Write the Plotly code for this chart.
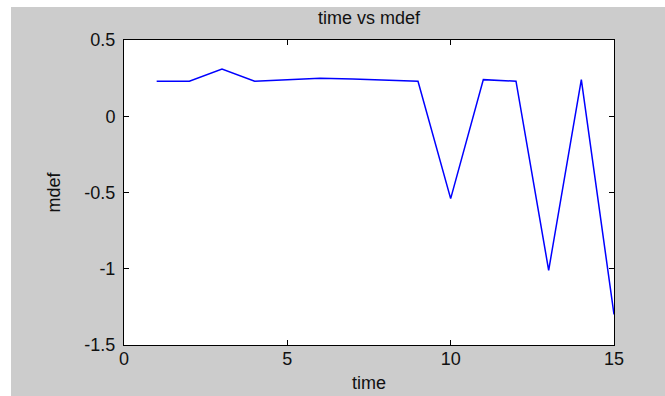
import plotly.graph_objects as go

time = list(range(1, 16))
mdef = [0.23, 0.23, 0.31, 0.23, 0.24, 0.25, 0.245, 0.235, 0.23,
        -0.54, 0.24, 0.23, -1.01, 0.24, -1.30]

x_ticks = [0, 5, 10, 15]
y_ticks = [0.5, 0, -0.5, -1, -1.5]
y_ticklabels = ["0.5", "0", "-0.5", "-1", "-1.5"]

W, H = 665, 396
L, R, T, B = 124, 51, 40, 51
FONT = "Liberation Sans, Arial, sans-serif"
FS = 18
PW, PH = W - L - R, H - T - B

fig = go.Figure()
fig.add_trace(go.Scatter(x=time, y=mdef, mode="lines",
                         line=dict(color="#0000ff", width=1.5),
                         showlegend=False, hoverinfo="skip"))

axis_common = dict(showgrid=False, zeroline=False, showline=True, linecolor="black",
                   linewidth=1, mirror="ticks", ticks="inside", ticklen=5,
                   tickcolor="black", tickwidth=1,
                   tickfont=dict(family=FONT, size=FS, color="#111111"))

fig.update_layout(
    width=W, height=H,
    margin=dict(l=L, r=R, t=T, b=B, pad=0),
    paper_bgcolor="#cccccc", plot_bgcolor="white",
    xaxis=dict(range=[0, 15], tickvals=x_ticks, ticktext=[str(v) for v in x_ticks],
               ticklabelstandoff=-3, **axis_common),
    yaxis=dict(range=[-1.5, 0.5], tickvals=y_ticks, ticktext=y_ticklabels,
               ticklabelstandoff=4, **axis_common),
    shapes=[
        dict(type="rect", xref="paper", yref="paper", layer="below",
             x0=-L / PW - 0.01, x1=1 + R / PW + 0.01,
             y0=1 + (T - 7) / PH, y1=1 + T / PH + 0.01,
             fillcolor="white", line=dict(width=0)),
        dict(type="rect", xref="paper", yref="paper", layer="below",
             x0=-L / PW - 0.01, x1=-(L - 11) / PW,
             y0=-B / PH - 0.01, y1=1 + T / PH + 0.01,
             fillcolor="white", line=dict(width=0)),
    ],
    annotations=[
        dict(text="time vs mdef", xref="paper", yref="paper",
             x=0.5, y=1 + (T - 18) / PH, xanchor="center", yanchor="middle",
             showarrow=False, font=dict(family=FONT, size=FS, color="#111111")),
        dict(text="time", xref="paper", yref="paper",
             x=0.5, y=-(383 - (H - B)) / PH, xanchor="center", yanchor="middle",
             showarrow=False, font=dict(family=FONT, size=FS, color="#111111")),
        dict(text="mdef", xref="paper", yref="paper", textangle=-90,
             x=-(L - 53) / PW, y=0.5, xanchor="center", yanchor="middle",
             showarrow=False, font=dict(family=FONT, size=FS, color="#111111")),
    ],
)

fig.write_html("out.html", config={"displayModeBar": False, "staticPlot": True},
               post_script="document.body.style.margin='0';")
